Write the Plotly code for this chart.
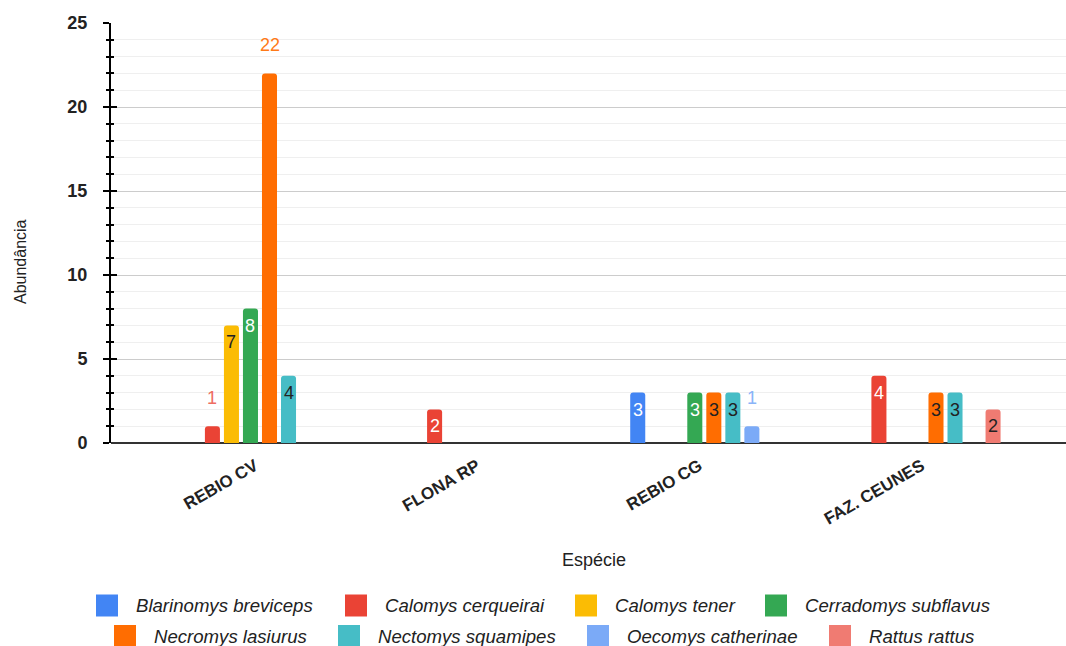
import plotly.graph_objects as go

# Sites and species abundance counts
categories = ["REBIO CV", "FLONA RP", "REBIO CG", "FAZ. CEUNES"]
species = [
    "Blarinomys breviceps",
    "Calomys cerqueirai",
    "Calomys tener",
    "Cerradomys subflavus",
    "Necromys lasiurus",
    "Nectomys squamipes",
    "Oecomys catherinae",
    "Rattus rattus",
]
blarinomys_breviceps = [0, 0, 3, 0]
calomys_cerqueirai = [1, 2, 0, 4]
calomys_tener = [7, 0, 0, 0]
cerradomys_subflavus = [8, 0, 3, 0]
necromys_lasiurus = [22, 0, 3, 3]
nectomys_squamipes = [4, 0, 3, 3]
oecomys_catherinae = [0, 0, 1, 0]
rattus_rattus = [0, 0, 0, 2]
y_ticks = [0, 5, 10, 15, 20, 25]

series = [
    blarinomys_breviceps, calomys_cerqueirai, calomys_tener, cerradomys_subflavus,
    necromys_lasiurus, nectomys_squamipes, oecomys_catherinae, rattus_rattus,
]

# Styling
colors = ["#4285F4", "#EA4335", "#FBBC04", "#34A853",
          "#FF6D01", "#46BDC6", "#7BAAF7", "#F07B72"]
inside_text = ["#ffffff", "#ffffff", "#222222", "#ffffff",
               "#222222", "#222222", "#222222", "#222222"]
outside_text = ["#6ea0f6", "#ee6d62", "#fbc634", "#5cb873",
                "#ff7a18", "#6ccbd2", "#8ab4f8", "#f39890"]

FONT = "Liberation Sans, Arial, sans-serif"
W_PX, H_PX = 1066, 646
L, R, T, B = 111, 0, 23, 203
PW, PH = W_PX - L - R, H_PX - T - B

BARGAP = 0.315
GROUPGAP = 0.21
n = len(series)
slot = (1 - BARGAP) / n


def px_x(p):
    return (p - L) / PW


def px_y(p):
    return (T + PH - p) / PH


fig = go.Figure()
for name, vals, col in zip(species, series, colors):
    fig.add_trace(go.Bar(
        x=categories, y=vals, name=name,
        marker=dict(color=col, line=dict(width=0)),
        showlegend=False, hoverinfo="x+y+name",
    ))

# dummy trace carrying the overlay axis used for crossing ticks
fig.add_trace(go.Scatter(x=[categories[0]], y=[None], yaxis="y2",
                         showlegend=False, hoverinfo="skip"))

annotations = []
peak = max(max(v) for v in series)
for si, vals in enumerate(series):
    for ci, v in enumerate(vals):
        if v <= 0:
            continue
        xpos = ci + (si - (n - 1) / 2) * slot
        outside = v <= 1 or v == peak
        annotations.append(dict(
            x=xpos, y=v, xref="x", yref="y", text=str(v), showarrow=False,
            yanchor="middle", yshift=28 if outside else -17,
            font=dict(family=FONT, size=18,
                      color=outside_text[si] if outside else inside_text[si]),
        ))

# axis titles
annotations.append(dict(
    x=px_x(20), y=px_y(262), xref="paper", yref="paper", text="Abundância",
    textangle=-90, showarrow=False, xanchor="center", yanchor="middle",
    font=dict(family=FONT, size=16, color="#222222"),
))
annotations.append(dict(
    x=px_x(594), y=px_y(560), xref="paper", yref="paper", text="Espécie",
    showarrow=False, xanchor="center", yanchor="middle",
    font=dict(family=FONT, size=18, color="#222222"),
))

# legend drawn as two centred rows of swatches
legend_rows = [
    (605.5, [(96, 0), (345, 1), (575, 2), (765, 3)]),
    (636, [(114, 4), (338, 5), (587, 6), (829, 7)]),
]
shapes = []
SW = 22
for cy, items in legend_rows:
    for x0, si in items:
        shapes.append(dict(
            type="rect", xref="paper", yref="paper",
            x0=px_x(x0), x1=px_x(x0 + SW),
            y0=px_y(cy + SW / 2), y1=px_y(cy - SW / 2),
            fillcolor=colors[si], line=dict(width=0), layer="above",
        ))
        annotations.append(dict(
            x=px_x(x0 + SW + 16), y=px_y(cy), xref="paper", yref="paper",
            text=f"<i>{species[si]}</i>", showarrow=False,
            xanchor="left", yanchor="middle",
            font=dict(family=FONT, size=18.6, color="#222222"),
        ))

fig.update_layout(
    width=W_PX, height=H_PX,
    margin=dict(l=L, r=R, t=T, b=B, pad=0),
    paper_bgcolor="white", plot_bgcolor="white",
    barmode="group", bargap=BARGAP, bargroupgap=GROUPGAP, barcornerradius=3,
    showlegend=False,
    font=dict(family=FONT, color="#222222"),
    xaxis=dict(
        type="category", categoryorder="array", categoryarray=categories,
        range=[-0.6706, 3.628], showgrid=False, showline=False, ticks="",
        tickangle=-30, ticklabelstandoff=9, ticklabelshift=-5,
        tickfont=dict(family=FONT, size=17, color="#222222", weight="bold"),
        fixedrange=True,
    ),
    yaxis=dict(
        range=[0, 25], tickvals=y_ticks, ticktext=[str(t) for t in y_ticks],
        showgrid=True, gridcolor="#cccccc", gridwidth=1,
        zeroline=True, zerolinecolor="#333333", zerolinewidth=2,
        showline=True, linecolor="#000000", linewidth=2,
        ticks="outside", ticklen=6, tickwidth=2, tickcolor="#000000",
        ticklabelstandoff=12,
        tickfont=dict(family=FONT, size=18, color="#222222", weight="bold"),
        minor=dict(dtick=1, showgrid=True, gridcolor="#efefef", gridwidth=1,
                   ticks="outside", ticklen=3, tickwidth=2, tickcolor="#000000"),
        fixedrange=True,
    ),
    yaxis2=dict(
        overlaying="y", anchor="x", side="left", range=[0, 25],
        tickvals=y_ticks, showticklabels=False, showgrid=False, zeroline=False,
        showline=False, ticks="inside", ticklen=6, tickwidth=2, tickcolor="#000000",
        minor=dict(dtick=1, showgrid=False, ticks="inside", ticklen=3,
                   tickwidth=2, tickcolor="#000000"),
        fixedrange=True,
    ),
    annotations=annotations,
    shapes=shapes,
)

fig.write_html("out.html")
